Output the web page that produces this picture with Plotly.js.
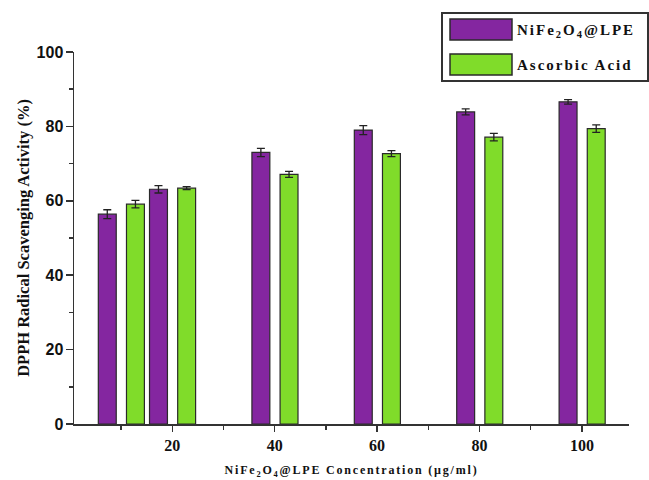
<!DOCTYPE html>
<html>
<head>
<meta charset="utf-8">
<script src="https://cdn.plot.ly/plotly-3.0.1.min.js"></script>
<style>
html,body{margin:0;padding:0;background:#fff;}
#chart{width:649px;height:480px;}
.xtitle{letter-spacing:1.8px;}
.annotation-text{letter-spacing:2px;}
</style>
</head>
<body>
<div id="chart"></div>
<script>
// Data
const concentrations = [10, 20, 40, 60, 80, 100];
const nifeValues = [56.4, 63.1, 73.0, 79.0, 83.9, 86.6];
const nifeErrors = [1.2, 1.0, 1.1, 1.2, 0.8, 0.6];
const ascorbicValues = [59.1, 63.4, 67.1, 72.7, 77.1, 79.4];
const ascorbicErrors = [1.0, 0.4, 0.8, 0.8, 1.0, 1.0];
const seriesNames = ['NiFe<sub>2</sub>O<sub>4</sub>@LPE', 'Ascorbic Acid'];
const xTickVals = [20, 40, 60, 80, 100];
const yTickVals = [0, 20, 40, 60, 80, 100];

const purple = '#8426A0';
const green = '#80DC2A';
const outline = '#2a2a2a';
const serif = 'Liberation Serif, Times New Roman, serif';
const sans = 'Liberation Sans, Arial, sans-serif';

const barWidth = 3.5;
const traces = [
  {
    type: 'bar', x: concentrations, y: nifeValues, name: seriesNames[0],
    width: barWidth, offset: -4.45,
    marker: {color: purple, line: {color: outline, width: 1.2}},
    error_y: {type: 'data', array: nifeErrors, visible: true, color: '#222', thickness: 1.3, width: 4}
  },
  {
    type: 'bar', x: concentrations, y: ascorbicValues, name: seriesNames[1],
    width: barWidth, offset: 1.05,
    marker: {color: green, line: {color: outline, width: 1.2}},
    error_y: {type: 'data', array: ascorbicErrors, visible: true, color: '#222', thickness: 1.3, width: 4}
  }
];

// custom legend box (paper coordinates)
const px = v => (v - 74) / 555;
const py = v => (424 - v) / 372;
const shapes = [
  {type: 'rect', xref: 'paper', yref: 'paper', x0: px(442), x1: px(648), y0: py(13), y1: py(81),
   line: {color: '#333', width: 2}, fillcolor: 'rgba(0,0,0,0)'},
  {type: 'rect', xref: 'paper', yref: 'paper', x0: px(450), x1: px(512), y0: py(19), y1: py(40),
   line: {color: outline, width: 1.5}, fillcolor: purple},
  {type: 'rect', xref: 'paper', yref: 'paper', x0: px(450), x1: px(512), y0: py(54), y1: py(75),
   line: {color: outline, width: 1.5}, fillcolor: green}
];
const annotations = [
  {xref: 'paper', yref: 'paper', x: px(515), y: py(31), xanchor: 'left', yanchor: 'middle', showarrow: false,
   text: '<b>' + seriesNames[0] + '</b>', font: {family: serif, size: 15, color: '#111'}},
  {xref: 'paper', yref: 'paper', x: px(515), y: py(65), xanchor: 'left', yanchor: 'middle', showarrow: false,
   text: '<b>' + seriesNames[1] + '</b>', font: {family: serif, size: 15, color: '#111'}}
];

const layout = {
  width: 649, height: 480,
  margin: {l: 74, r: 20, t: 52, b: 56},
  paper_bgcolor: '#fff', plot_bgcolor: '#fff',
  showlegend: false,
  barmode: 'group',
  xaxis: {
    range: [0.8, 109.2], tickmode: 'array', tickvals: xTickVals, ticktext: xTickVals.map(String),
    ticks: 'outside', ticklen: 6, tickwidth: 1.5, tickcolor: '#333',
    minor: {dtick: 10, tick0: 0, ticks: 'outside', ticklen: 4, tickwidth: 1.5, tickcolor: '#333'},
    showline: true, linecolor: '#333', linewidth: 1.5, showgrid: false, zeroline: false,
    tickfont: {family: serif, size: 16, color: '#111', weight: 'bold'},
    title: {text: '<b>NiFe<sub>2</sub>O<sub>4</sub>@LPE Concentration (µg/ml)</b>', font: {family: serif, size: 12, color: '#111'}, standoff: 13},
    fixedrange: true
  },
  yaxis: {
    range: [0, 100], tickmode: 'array', tickvals: yTickVals, ticktext: yTickVals.map(String),
    ticks: 'outside', ticklen: 7, tickwidth: 1.5, tickcolor: '#333',
    minor: {dtick: 10, tick0: 0, ticks: 'outside', ticklen: 4, tickwidth: 1.5, tickcolor: '#333'},
    showline: true, linecolor: '#333', linewidth: 1.5, showgrid: false, zeroline: false,
    tickfont: {family: sans, size: 16, color: '#111', weight: 'bold'},
    ticklabelstandoff: -1,
    title: {text: '<b>DPPH Radical Scavenging Activity (%)</b>', font: {family: serif, size: 16.5, color: '#111'}, standoff: 3},
    fixedrange: true
  },
  shapes: shapes,
  annotations: annotations
};

Plotly.newPlot('chart', traces, layout, {displayModeBar: false, staticPlot: true});
</script>
</body>
</html>
